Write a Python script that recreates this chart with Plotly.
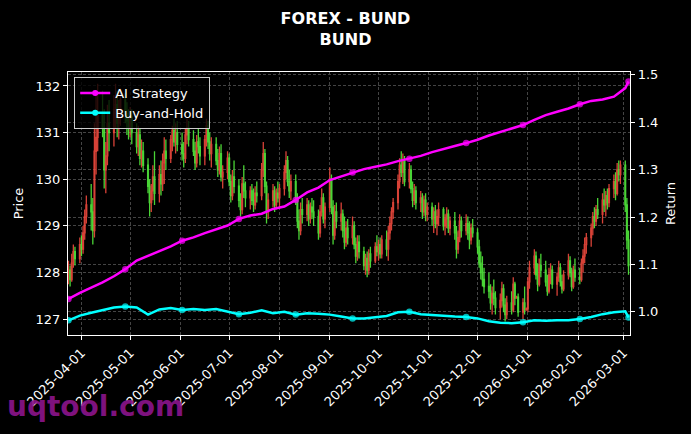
import pandas as pd
import plotly.graph_objects as go

# ---------------- data ----------------
dates = pd.bdate_range("2025-03-24", "2026-03-04")

opens = [
    127.90, 128.05, 127.85, 128.20, 128.45,
    128.30, 128.60, 128.50, 128.85, 129.20,
    129.45, 129.30, 128.90, 130.60, 130.90,
    131.40, 131.10, 130.20, 130.50, 131.20,
    131.00, 131.50, 131.60, 131.20, 131.45,
    131.70, 131.40, 131.25, 131.10, 131.35,
    131.00, 130.70, 130.95, 130.45, 130.60,
    130.30, 129.85, 129.50, 129.75, 130.05,
    129.70, 130.10, 129.90, 130.35, 130.60,
    130.45, 130.85, 131.05, 130.80, 131.00,
    130.75, 130.55, 130.45, 130.95, 131.10,
    130.85, 130.60, 130.35, 130.80, 130.70,
    130.50, 130.85, 131.15, 130.80, 130.55,
    130.75, 130.40, 130.20, 130.55, 130.05,
    130.15, 130.45, 129.95, 129.65, 130.05,
    129.85, 129.55, 129.35, 129.90, 129.75,
    129.60, 129.75, 129.55, 129.45, 129.70,
    129.65, 130.20, 130.55, 129.85, 129.30,
    129.55, 129.75, 129.45, 129.70, 129.60,
    129.80, 130.15, 130.40, 129.95, 129.75,
    129.95, 129.55, 129.10, 128.90, 129.35,
    129.25, 129.45, 129.15, 129.40, 129.30,
    129.20, 128.85, 129.30, 129.60, 129.15,
    129.40, 130.00, 129.40, 128.80, 129.30,
    129.10, 129.25, 128.90, 128.65, 128.95,
    128.75, 129.00, 128.60, 128.35, 128.65,
    128.45, 128.15, 128.30, 128.05, 128.40,
    128.25, 128.55, 128.45, 128.60, 128.40,
    128.70, 128.50, 128.85, 129.05, 129.30,
    129.50, 129.95, 130.30, 130.15, 130.40,
    129.95, 130.20, 129.80, 129.55, 129.75,
    129.50, 129.60, 129.30, 129.55, 129.25,
    129.40, 129.15, 129.30, 129.05, 129.20,
    129.35, 129.00, 129.15, 129.25, 128.95,
    129.10, 128.85, 128.50, 128.75, 129.10,
    128.90, 129.05, 128.85, 128.70, 128.95,
    128.85, 128.55, 128.20, 128.00, 127.85,
    127.70, 127.60, 127.35, 127.55, 127.45,
    127.25, 127.40, 127.65, 127.30, 127.10,
    127.35, 127.20, 127.75, 127.45, 127.47,
    127.15, 127.35, 127.20, 127.22, 127.80,
    128.10, 128.35, 127.95, 127.75, 128.15,
    128.05, 127.80, 127.60, 127.95, 128.05,
    127.75, 127.90, 128.10, 127.80, 127.65,
    127.95, 128.25, 128.00, 127.70, 128.05,
    127.90, 127.85, 128.20, 128.35, 128.60,
    128.75, 128.95, 129.20, 129.10, 129.35,
    129.25, 129.55, 129.45, 129.65, 129.50,
    129.80, 129.95, 129.70, 130.20, 130.10,
    130.30, 129.45, 128.70,
]

highs = [
    128.25, 128.15, 128.40, 128.60, 128.55,
    128.75, 128.80, 129.00, 129.35, 129.65,
    129.90, 129.60, 131.20, 131.80, 132.05,
    131.90, 131.50, 130.80, 131.60, 131.70,
    131.80, 132.05, 131.90, 131.70, 131.95,
    131.85, 131.65, 131.50, 131.55, 131.50,
    131.20, 131.15, 131.10, 130.85, 130.80,
    130.45, 130.00, 129.90, 130.30, 130.60,
    130.30, 130.40, 130.55, 130.90, 130.85,
    130.95, 131.15, 131.30, 131.20, 131.25,
    131.00, 130.80, 131.10, 131.30, 131.25,
    131.05, 130.80, 130.95, 131.10, 130.90,
    130.95, 131.30, 131.25, 131.00, 130.90,
    130.90, 130.65, 130.70, 130.75, 130.30,
    130.60, 130.55, 130.10, 130.20, 130.40,
    130.00, 129.70, 130.05, 130.30, 129.95,
    129.85, 129.90, 129.80, 129.85, 129.95,
    130.35, 130.80, 130.65, 129.95, 129.70,
    129.90, 129.85, 129.80, 129.95, 129.90,
    130.30, 130.60, 130.50, 130.20, 130.10,
    130.10, 129.70, 129.35, 129.50, 129.60,
    129.60, 129.55, 129.50, 129.60, 129.55,
    129.35, 129.45, 129.80, 129.70, 129.50,
    130.25, 130.10, 129.55, 129.45, 129.50,
    129.50, 129.35, 129.20, 129.10, 129.15,
    129.20, 129.10, 128.75, 128.80, 128.80,
    128.55, 128.40, 128.45, 128.50, 128.55,
    128.65, 128.80, 128.70, 128.75, 128.80,
    128.90, 129.00, 129.20, 129.40, 129.60,
    130.10, 130.45, 130.60, 130.55, 130.50,
    130.35, 130.30, 129.95, 129.90, 129.85,
    129.75, 129.70, 129.65, 129.70, 129.50,
    129.50, 129.40, 129.45, 129.35, 129.50,
    129.40, 129.25, 129.40, 129.35, 129.20,
    129.30, 129.00, 128.90, 129.25, 129.20,
    129.25, 129.20, 129.10, 129.05, 129.15,
    128.95, 128.70, 128.45, 128.35, 128.10,
    128.00, 127.75, 127.70, 127.85, 127.60,
    127.55, 127.80, 127.75, 127.45, 127.50,
    127.60, 127.90, 127.80, 127.50, 127.55,
    127.45, 127.70, 127.25, 127.90, 128.25,
    128.50, 128.45, 128.20, 128.30, 128.40,
    128.25, 127.95, 128.10, 128.20, 128.15,
    128.00, 128.25, 128.20, 127.95, 128.05,
    128.40, 128.35, 128.10, 128.15, 128.30,
    128.10, 128.30, 128.50, 128.75, 128.85,
    129.05, 129.30, 129.40, 129.45, 129.60,
    129.70, 129.80, 129.75, 129.80, 129.90,
    130.10, 130.15, 130.35, 130.40, 130.40,
    130.40, 129.60, 128.90,
]

lows = [
    127.75, 127.70, 127.80, 128.10, 128.15,
    128.20, 128.35, 128.40, 128.70, 129.05,
    128.90, 128.60, 128.75, 130.10, 130.60,
    130.90, 129.80, 129.70, 130.30, 130.60,
    130.70, 131.10, 130.90, 130.85, 131.15,
    131.20, 130.95, 130.85, 130.90, 130.75,
    130.55, 130.50, 130.30, 130.25, 130.15,
    129.70, 129.20, 129.30, 129.55, 129.45,
    129.50, 129.65, 129.75, 129.90, 130.20,
    130.35, 130.60, 130.70, 130.55, 130.60,
    130.40, 130.25, 130.35, 130.75, 130.70,
    130.50, 130.20, 130.25, 130.55, 130.30,
    130.30, 130.70, 130.65, 130.40, 130.25,
    130.30, 130.05, 130.10, 129.95, 129.80,
    130.00, 129.85, 129.50, 129.55, 129.70,
    129.40, 129.20, 129.25, 129.60, 129.40,
    129.35, 129.45, 129.30, 129.35, 129.50,
    129.55, 130.05, 129.70, 129.05, 129.15,
    129.40, 129.30, 129.35, 129.50, 129.40,
    129.65, 130.00, 129.85, 129.60, 129.55,
    129.45, 128.95, 128.70, 128.80, 129.05,
    129.10, 129.00, 129.05, 129.15, 129.00,
    128.70, 128.75, 129.20, 129.05, 128.95,
    129.30, 129.25, 128.60, 128.70, 128.95,
    128.90, 128.75, 128.50, 128.55, 128.60,
    128.60, 128.50, 128.20, 128.25, 128.30,
    128.05, 127.95, 127.90, 127.95, 128.10,
    128.20, 128.35, 128.25, 128.30, 128.30,
    128.35, 128.25, 128.70, 128.90, 129.15,
    129.35, 129.80, 130.05, 129.90, 129.85,
    129.80, 129.70, 129.40, 129.45, 129.35,
    129.30, 129.15, 129.20, 129.10, 129.10,
    129.00, 128.85, 128.95, 128.80, 129.00,
    128.90, 128.80, 128.95, 128.85, 128.80,
    128.70, 128.30, 128.40, 128.65, 128.75,
    128.80, 128.70, 128.50, 128.60, 128.75,
    128.40, 128.10, 127.85, 127.70, 127.55,
    127.45, 127.20, 127.10, 127.30, 127.10,
    127.00, 127.25, 127.15, 126.95, 127.00,
    127.10, 127.15, 127.30, 127.45, 127.05,
    127.00, 127.10, 127.18, 127.15, 127.65,
    127.95, 127.85, 127.60, 127.70, 127.90,
    127.70, 127.50, 127.55, 127.75, 127.65,
    127.50, 127.80, 127.70, 127.55, 127.60,
    127.85, 127.90, 127.60, 127.65, 127.80,
    127.75, 127.80, 128.00, 128.20, 128.40,
    128.55, 128.80, 128.95, 129.00, 129.15,
    129.05, 129.30, 129.20, 129.35, 129.40,
    129.60, 129.55, 129.65, 129.95, 129.90,
    129.30, 128.50, 127.95,
]

closes = [
    128.05, 127.85, 128.20, 128.45, 128.30,
    128.60, 128.50, 128.85, 129.20, 129.45,
    129.30, 128.90, 130.60, 130.90, 131.40,
    131.10, 130.20, 130.50, 131.20, 131.00,
    131.50, 131.60, 131.20, 131.45, 131.70,
    131.40, 131.25, 131.10, 131.35, 131.00,
    130.70, 130.95, 130.45, 130.60, 130.30,
    129.85, 129.50, 129.75, 130.05, 129.70,
    130.10, 129.90, 130.35, 130.60, 130.45,
    130.85, 131.05, 130.80, 131.00, 130.75,
    130.55, 130.45, 130.95, 131.10, 130.85,
    130.60, 130.35, 130.80, 130.70, 130.50,
    130.85, 131.15, 130.80, 130.55, 130.75,
    130.40, 130.20, 130.55, 130.05, 130.15,
    130.45, 129.95, 129.65, 130.05, 129.85,
    129.55, 129.35, 129.90, 129.75, 129.60,
    129.75, 129.55, 129.45, 129.70, 129.65,
    130.20, 130.55, 129.85, 129.30, 129.55,
    129.75, 129.45, 129.70, 129.60, 129.80,
    130.15, 130.40, 129.95, 129.75, 129.95,
    129.55, 129.10, 128.90, 129.35, 129.25,
    129.45, 129.15, 129.40, 129.30, 129.20,
    128.85, 129.30, 129.60, 129.15, 129.40,
    130.00, 129.40, 128.80, 129.30, 129.10,
    129.25, 128.90, 128.65, 128.95, 128.75,
    129.00, 128.60, 128.35, 128.65, 128.45,
    128.15, 128.30, 128.05, 128.40, 128.25,
    128.55, 128.45, 128.60, 128.40, 128.70,
    128.50, 128.85, 129.05, 129.30, 129.50,
    129.95, 130.30, 130.15, 130.40, 129.95,
    130.20, 129.80, 129.55, 129.75, 129.50,
    129.60, 129.30, 129.55, 129.25, 129.40,
    129.15, 129.30, 129.05, 129.20, 129.35,
    129.00, 129.15, 129.25, 128.95, 129.10,
    128.85, 128.50, 128.75, 129.10, 128.90,
    129.05, 128.85, 128.70, 128.95, 128.85,
    128.55, 128.20, 128.00, 127.85, 127.70,
    127.60, 127.35, 127.55, 127.45, 127.25,
    127.40, 127.65, 127.30, 127.10, 127.35,
    127.20, 127.75, 127.45, 127.47, 127.15,
    127.35, 127.20, 127.22, 127.80, 128.10,
    128.35, 127.95, 127.75, 128.15, 128.05,
    127.80, 127.60, 127.95, 128.05, 127.75,
    127.90, 128.10, 127.80, 127.65, 127.95,
    128.25, 128.00, 127.70, 128.05, 127.90,
    127.85, 128.20, 128.35, 128.60, 128.75,
    128.95, 129.20, 129.10, 129.35, 129.25,
    129.55, 129.45, 129.65, 129.50, 129.80,
    129.95, 129.70, 130.20, 130.10, 130.30,
    129.45, 128.70, 128.15,
]

return_dates = list(pd.date_range("2025-03-24", periods=50, freq="7D")) + [pd.Timestamp("2026-03-04")]

ai_strategy = [
    1.027, 1.040, 1.051, 1.062, 1.075, 1.090, 1.108, 1.118, 1.128, 1.138,
    1.150, 1.157, 1.166, 1.174, 1.182, 1.196, 1.203, 1.207, 1.217, 1.222,
    1.236, 1.252, 1.262, 1.278, 1.286, 1.294, 1.301, 1.306, 1.311, 1.318,
    1.323, 1.329, 1.337, 1.344, 1.350, 1.356, 1.363, 1.372, 1.379, 1.386,
    1.394, 1.405, 1.415, 1.422, 1.429, 1.438, 1.445, 1.448, 1.454, 1.472,
    1.486,
]

buy_hold = [
    0.982, 0.992, 0.998, 1.004, 1.009, 1.011, 1.009, 0.994, 1.005, 1.008,
    1.004, 1.006, 1.004, 1.006, 1.001, 0.995, 0.998, 1.003, 0.997, 1.000,
    0.994, 0.997, 0.996, 0.994, 0.990, 0.986, 0.986, 0.988, 0.991, 0.999,
    1.000, 0.995, 0.993, 0.991, 0.990, 0.989, 0.986, 0.980, 0.977, 0.976,
    0.978, 0.982, 0.981, 0.982, 0.982, 0.985, 0.989, 0.995, 0.999, 1.001,
    0.988,
]

month_ticks = list(pd.date_range("2025-04-01", "2026-03-01", freq="MS"))
month_labels = [d.strftime("%Y-%m-%d") for d in month_ticks]
price_ticks = [127, 128, 129, 130, 131, 132]
return_ticks = [1.0, 1.1, 1.2, 1.3, 1.4, 1.5]

# ---------------- figure ----------------
FONT = "DejaVu Sans"
marker_sizes = [6.5 if i % 5 == 0 else 0 for i in range(len(return_dates))]

fig = go.Figure()
fig.add_trace(go.Candlestick(
    x=dates, open=opens, high=highs, low=lows, close=closes,
    increasing=dict(line=dict(color="#f04a3e", width=1.3), fillcolor="#f04a3e"),
    decreasing=dict(line=dict(color="#52ec3c", width=1.3), fillcolor="#52ec3c"),
    opacity=0.9, showlegend=False, hoverinfo="skip", yaxis="y",
))
series = [("AI Strategy", ai_strategy, "#ff00ff"), ("Buy-and-Hold", buy_hold, "#00ffff")]
for name, vals, col in series:
    fig.add_trace(go.Scatter(
        x=return_dates, y=vals, name=name, mode="lines+markers", showlegend=False,
        line=dict(color=col, width=2.5),
        marker=dict(color=col, size=marker_sizes, symbol="circle", line=dict(width=0)),
        yaxis="y2", hoverinfo="skip",
    ))
for name, vals, col in series:
    fig.add_trace(go.Scatter(
        x=[None], y=[None], name=name, mode="lines+markers",
        line=dict(color=col, width=2.5),
        marker=dict(color=col, size=6, symbol="circle", line=dict(width=0)),
        yaxis="y2",
    ))

grid = dict(showgrid=True, gridcolor="#444444", gridwidth=0.8, griddash="3px,2px")
axis_common = dict(showline=True, linecolor="white", linewidth=1.2, ticks="outside",
                   ticklen=4, tickcolor="white", tickfont=dict(color="white", size=13, family=FONT),
                   zeroline=False, automargin=False)

fig.update_layout(
    width=691, height=434,
    paper_bgcolor="black", plot_bgcolor="black",
    margin=dict(l=68, r=61, t=72, b=99),
    font=dict(family=FONT, color="white", size=13),
    title=dict(text="<b>FOREX - BUND<br>BUND</b>", x=0.5, xanchor="center",
               yref="container", y=1 - 24 / 434, yanchor="middle",
               font=dict(size=16, color="white", family=FONT)),
    xaxis=dict(type="date", range=["2025-03-23 17:00", "2026-03-04 22:00"],
               tickmode="array", tickvals=month_ticks, ticktext=month_labels,
               tickangle=-45, mirror=True, rangeslider=dict(visible=False),
               **grid, **axis_common),
    yaxis=dict(range=[126.66, 132.30], tickmode="array", tickvals=price_ticks,
               ticktext=[str(v) for v in price_ticks], mirror=True,
               title=dict(text="Price", font=dict(size=13, color="white", family=FONT), standoff=8),
               **grid, **axis_common),
    yaxis2=dict(overlaying="y", side="right", range=[0.951, 1.506], tickmode="array",
                tickvals=return_ticks, ticktext=[f"{v:.1f}" for v in return_ticks],
                title=dict(text="Return", font=dict(size=13, color="white", family=FONT), standoff=8),
                **grid, **axis_common),
    legend=dict(x=0.011, y=0.981, xanchor="left", yanchor="top",
                bgcolor="rgba(0,0,0,0.8)", bordercolor="#cccccc", borderwidth=1,
                font=dict(color="white", size=13, family=FONT), itemwidth=30,
                tracegroupgap=2),
    showlegend=True,
    hovermode=False,
    annotations=[dict(text="<b>uqtool.com</b>", xref="paper", yref="paper",
                      x=-0.112, y=-0.27, xanchor="left", yanchor="middle",
                      showarrow=False, font=dict(size=28, color="rgba(140,20,140,0.92)", family=FONT))],
)

fig.write_html("out.html", config={"displayModeBar": False},
               post_script="document.body.style.margin='0';document.body.style.background='black';")
